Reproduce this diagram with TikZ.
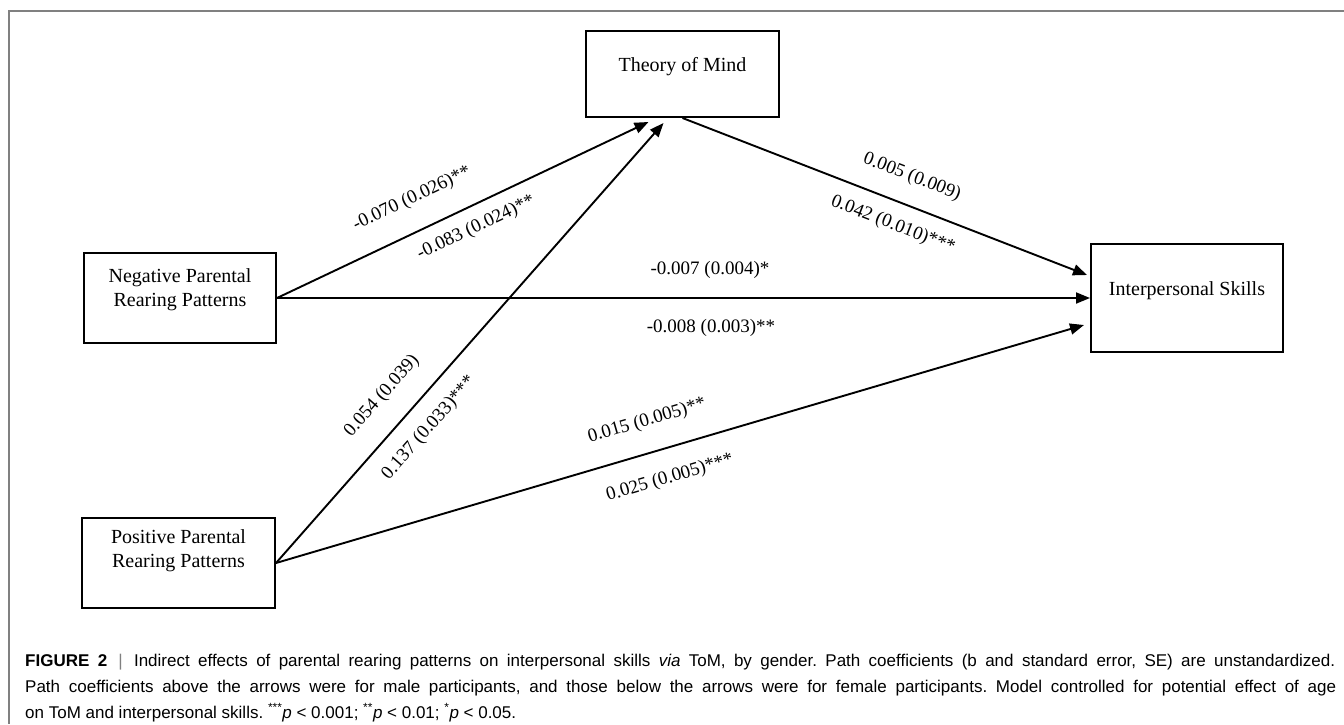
\documentclass[tikz,border=0pt]{standalone}
\usepackage{fontspec}
\setmainfont{Liberation Serif}
\newfontfamily\capfont{Liberation Sans}
\usetikzlibrary{arrows.meta,calc}
\definecolor{framegray}{RGB}{128,128,128}
\frenchspacing
\tikzset{
  box/.style={draw, line width=2pt, inner sep=0pt, fill=white},
  boxtext/.style={font=\fontsize{20}{24}\selectfont, align=center, inner sep=0pt},
  coef/.style={font=\fontsize{19}{22}\selectfont, inner sep=0pt},
  conn/.style={line width=1.9pt, -{Triangle[length=14pt,width=11pt]}},
  capline/.style={font=\capfont\fontsize{17}{26}\selectfont, anchor=base west, inner sep=0pt}
}
\begin{document}
\begin{tikzpicture}[x=1pt,y=-1pt]
\useasboundingbox (0,0) rectangle (1344,724);
\draw[framegray, line width=1.5pt] (1344,11) -- (9,11) -- (9,724);

% boxes
\node[box, minimum width=193pt, minimum height=86pt] (tom) at (682.5,74) {};
\node[boxtext] (tomtxt) at (682.5,67) {Theory of Mind};
\node[box, minimum width=192pt, minimum height=90pt] (neg) at (180,298) {};
\node[boxtext] (negtxt) at (180,290) {Negative Parental\\Rearing Patterns};
\node[box, minimum width=193pt, minimum height=90pt] (pos) at (178.5,563) {};
\node[boxtext] (postxt) at (178.5,551) {Positive Parental\\Rearing Patterns};
\node[box, minimum width=192pt, minimum height=108pt] (is) at (1187,298) {};
\node[boxtext] (istxt) at (1187,291) {Interpersonal Skills};

% connectors
\draw[conn] (neg.east) -- ($(tom.south)+(-34,4)$);
\draw[conn] (pos.east) -- ($(tom.south)+(-19,5)$);
\draw[conn] (tom.south) -- ($(is.west)+(-3,-23)$);
\draw[conn] (neg.east) -- (is.west);
\draw[conn] (pos.east) -- ($(is.west)+(-6,27)$);

% coefficients
\node[coef, rotate=25.4] (c1a) at (412,199) {-0.070 (0.026)**};
\node[coef, rotate=25.4] (c1b) at (476,228) {-0.083 (0.024)**};
\node[coef, rotate=48.6] (c2a) at (382,396) {0.054 (0.039)};
\node[coef, rotate=48.6] (c2b) at (429,428) {0.137 (0.033)***};
\node[coef, rotate=-21.3] (c3a) at (912,177) {0.005 (0.009)};
\node[coef, rotate=-21.3] (c3b) at (893,225) {0.042 (0.010)***};
\node[coef] (c4a) at (710,270) {-0.007 (0.004)*};
\node[coef] (c4b) at (711,328) {-0.008 (0.003)**};
\node[coef, rotate=16.3] (c5a) at (647,421) {0.015 (0.005)**};
\node[coef, rotate=16.3] (c5b) at (670,478) {0.025 (0.005)***};

% caption
\node[capline] (cap1) at (25,666) {\makebox[1310pt][s]{\textbf{FIGURE 2} \,\textcolor{framegray}{|}\, Indirect effects of parental rearing patterns on interpersonal skills \textit{via} ToM, by gender. Path coefficients (b and standard error, SE) are unstandardized.}};
\node[capline] (cap2) at (25,692) {\makebox[1311pt][s]{Path coefficients above the arrows were for male participants, and those below the arrows were for female participants. Model controlled for potential effect of age}};
\node[capline] (cap3) at (25,718) {on ToM and interpersonal skills. \textsuperscript{***}\textit{p} < 0.001; \textsuperscript{**}\textit{p} < 0.01; \textsuperscript{*}\textit{p} < 0.05.};
\end{tikzpicture}
\end{document}
